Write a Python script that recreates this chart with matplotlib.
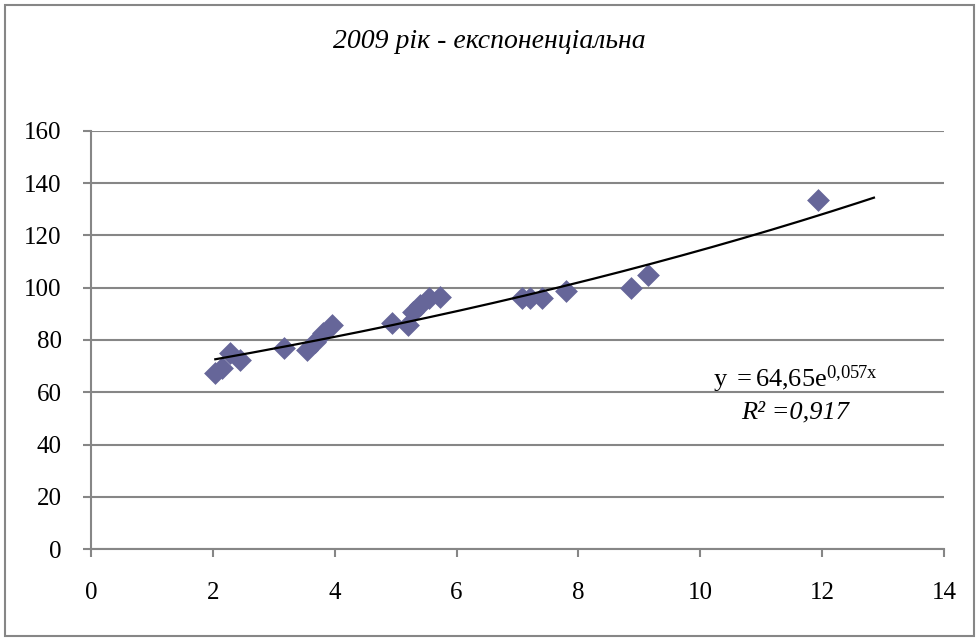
import numpy as np
import matplotlib.pyplot as plt
from matplotlib.patches import Rectangle

# ==========================================
# DATA
# ==========================================
x_vals = [2.04, 2.15, 2.28, 2.45, 3.17, 3.54, 3.68, 3.81, 3.95,
          4.94, 5.21, 5.29, 5.40, 5.54, 5.73,
          7.07, 7.21, 7.40, 7.80, 8.87, 9.15, 11.93]
y_vals = [67.4, 69.2, 74.9, 72.3, 76.8, 76.2, 79.4, 82.6, 85.7,
          86.4, 85.7, 90.8, 93.4, 96.0, 96.6,
          96.0, 96.0, 96.0, 98.8, 99.8, 104.9, 133.6]

# Exponential trendline y = A * exp(B x), as printed on the chart
TREND_A = 64.65
TREND_B = 0.057
TREND_X_END = 12.85

TITLE = "2009 рік - експоненціальна"
EQ_TEXT = r"$\mathregular{y\ =64{,}65e^{0{,}057x}}$"
R2_TEXT = "R² =0,917"

x_ticks = [0, 2, 4, 6, 8, 10, 12, 14]
y_ticks = [0, 20, 40, 60, 80, 100, 120, 140, 160]

GRAY = "#868686"
MARKER_COLOR = "#666699"

plt.rcParams['font.family'] = ['Liberation Serif', 'DejaVu Serif']
plt.rcParams['mathtext.fontset'] = 'custom'
plt.rcParams['mathtext.rm'] = 'Liberation Serif'
plt.rcParams['mathtext.it'] = 'Liberation Serif:italic'

# ==========================================
# FIGURE
# ==========================================
W, H = 979, 641
fig = plt.figure(figsize=(W / 100, H / 100), dpi=100)
fig.patches.append(Rectangle((5 / W, 5 / H), (W - 10) / W, (H - 10) / H,
                             transform=fig.transFigure, fill=False,
                             edgecolor=GRAY, linewidth=1.5))

ax = fig.add_axes([91 / W, 1 - 549 / H, (944 - 91) / W, 418 / H])

ax.scatter(x_vals, y_vals, marker='D', s=135, color=MARKER_COLOR,
           linewidths=0, zorder=3)

xt = np.linspace(min(x_vals), TREND_X_END, 200)
ax.plot(xt, TREND_A * np.exp(TREND_B * xt), color='black', lw=1.6, zorder=4)

ax.set_xlim(0, 14)
ax.set_ylim(0, 160)
ax.set_xticks(x_ticks)
ax.set_yticks(y_ticks)
ax.tick_params(axis='both', colors=GRAY, labelcolor='black', labelsize=18,
               length=6, width=1.5, direction='out')
ax.tick_params(axis='x', pad=18)
ax.tick_params(axis='y', pad=15)

ax.grid(axis='y', color=GRAY, lw=1.5, zorder=0)
ax.set_axisbelow(True)
for side in ['top', 'right']:
    ax.spines[side].set_visible(False)
for side in ['left', 'bottom']:
    ax.spines[side].set_color(GRAY)
    ax.spines[side].set_linewidth(1.5)

fig.text(0.5, 1 - 42 / H, TITLE, ha='center', va='center',
         fontsize=20, style='italic')

ax.text(11.56, 62.0, EQ_TEXT, ha='center', va='baseline', fontsize=19)
ax.text(11.56, 49.8, R2_TEXT, ha='center', va='baseline', fontsize=19,
        style='italic')

fig.savefig('out.png', dpi=100)
